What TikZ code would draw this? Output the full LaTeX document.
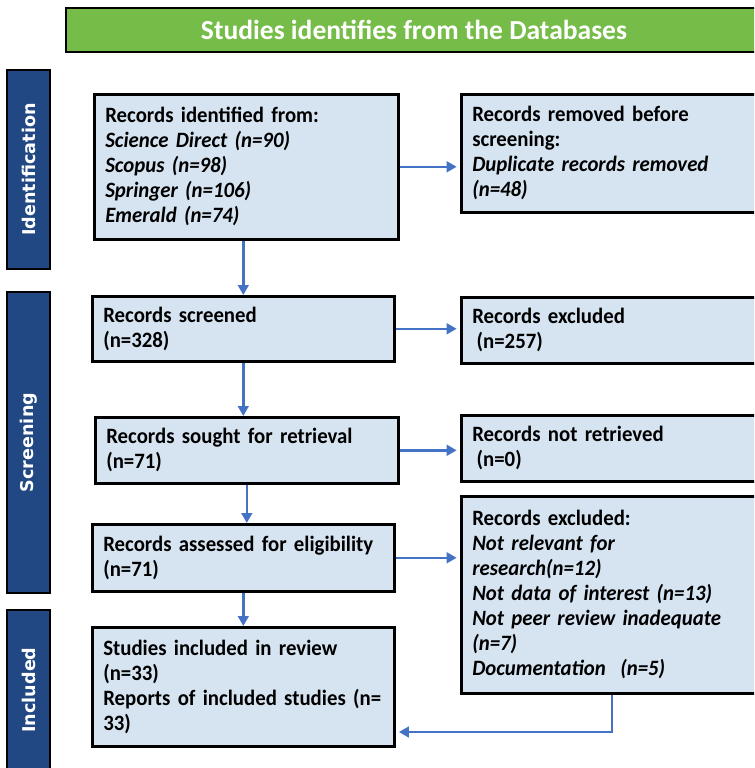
\documentclass[tikz,border=0pt]{standalone}
\usepackage{fontspec}
\setmainfont{Carlito}[FakeStretch=0.95, WordSpace=0.85]
\newfontfamily\bannerfont{Carlito}
\newfontfamily\sidefont{DejaVu Sans}
\usetikzlibrary{positioning, arrows.meta, calc}
\tikzset{>={Triangle[length=0.3cm,width=0.32cm]}}
\definecolor{bannergreen}{RGB}{118,188,72}
\definecolor{sidebarblue}{RGB}{34,72,132}
\definecolor{boxblue}{RGB}{214,228,241}
\definecolor{arrowblue}{RGB}{68,114,196}

\begin{document}
\begin{tikzpicture}[
  x=0.03cm, y=-0.03cm,
  banner/.style={draw, line width=1.4pt, fill=bannergreen, text=white, minimum width=20.88cm, minimum height=1.32cm, font=\bannerfont\fontsize{23.5}{28}\selectfont\bfseries},
  side/.style={draw, line width=1.4pt, fill=sidebarblue, text=white, rotate=90, minimum height=1.29cm, font=\sidefont\fontsize{15}{18}\selectfont\bfseries},
  box/.style={draw, line width=2.2pt, fill=boxblue, anchor=north west, align=left, inner xsep=0.33cm, inner ysep=0pt, font=\fontsize{18.7}{21.3}\selectfont\bfseries},
  leftbox/.style={box, text width=8.4cm},
  rightbox/.style={box, text width=9.24cm},
  flow/.style={->, line width=2.2pt, draw=arrowblue}
]
  \clip (0,0) rectangle (754,768);

  % Header and phase bars
  \node[banner] (title) at (414,30) {Studies identifies from the Databases};
  \node[side, minimum width=5.97cm] (ident) at (28.5,169.5) {Identification};
  \node[side, minimum width=9.03cm] (screen) at (28.5,442.5) {Screening};
  \node[side, minimum width=4.8cm] (incl) at (28.5,690) {Included};

  % Nodes
  \node[leftbox, text width=8.46cm, minimum height=4.35cm] (found) at (93,93)
    {Records identified from:\\ \textit{Science Direct (n=90)}\\ \textit{Scopus (n=98)}\\ \textit{Springer (n=106)}\\ \textit{Emerald (n=74)}};
  \node[rightbox, minimum height=3.54cm] (dupl) at (460,93)
    {Records removed before\\ screening:\\ \textit{Duplicate records removed}\\ \textit{(n=48)}};
  \node[leftbox, minimum height=1.95cm] (screened) at (91,295)
    {Records screened\\ (n=328)};
  \node[rightbox, minimum height=1.98cm] (excl) at (460,296)
    {Records excluded\\ \hspace{0.2em}(n=257)};
  \node[leftbox, text width=8.43cm, minimum height=1.98cm] (sought) at (94,416)
    {Records sought for retrieval\\ (n=71)};
  \node[rightbox, minimum height=1.98cm] (notret) at (460,414)
    {Records not retrieved\\ \hspace{0.2em}(n=0)};
  \node[leftbox, minimum height=2.01cm] (assessed) at (91,523)
    {Records assessed for eligibility\\ (n=71)};
  \node[rightbox, minimum height=5.91cm] (reasons) at (460,495)
    {Records excluded:\\ \textit{Not relevant for}\\ \textit{research(n=12)}\\ \textit{Not data of interest (n=13)}\\ \textit{Not peer review inadequate}\\ \textit{(n=7)}\\ \textit{Documentation~ (n=5)}};
  \node[leftbox, minimum height=3.57cm] (included) at (91,626)
    {Studies included in review\\ (n=33)\\ Reports of included studies (n=\\ 33)};
  \coordinate (turn) at (612,732);

  % Flow
  \draw[flow, shorten >=0.1cm] (found.east) -- (found.east -| dupl.west);
  \draw[flow] (screened.north |- found.south) -- (screened.north);
  \draw[flow, shorten >=0.1cm] (screened.east) -- (screened.east -| excl.west);
  \draw[flow] (screened.south) -- (screened.south |- sought.north);
  \draw[flow, shorten >=0.1cm] (sought.east) -- (sought.east -| notret.west);
  \draw[flow] (sought.south) -- (sought.south |- assessed.north);
  \draw[flow, shorten >=0.1cm] (assessed.east) -- (assessed.east -| reasons.west);
  \draw[flow] (assessed.south) -- (assessed.south |- included.north);
  \draw[flow, shorten >=0.1cm] (reasons.south -| turn) |- (included.east |- turn);
\end{tikzpicture}
\end{document}
